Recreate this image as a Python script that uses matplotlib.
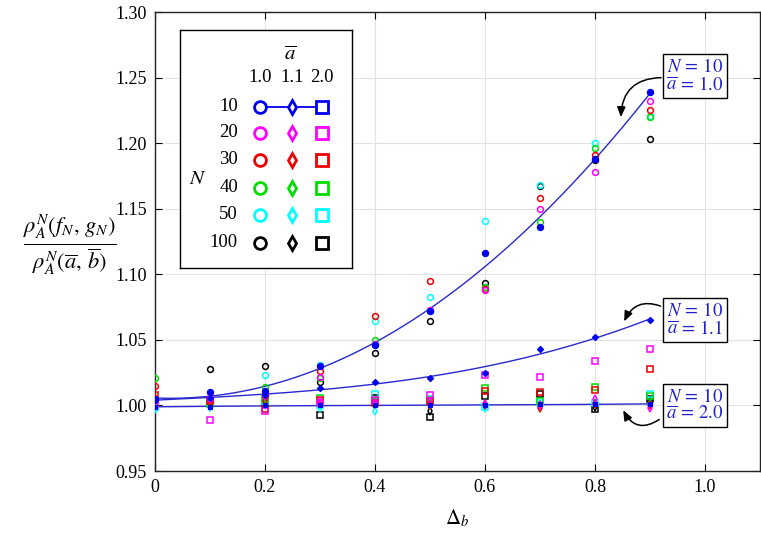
import numpy as np
import matplotlib
matplotlib.use("Agg")
import matplotlib.pyplot as plt

plt.rcParams['font.family'] = 'serif'
plt.rcParams['font.serif'] = ['Liberation Serif', 'DejaVu Serif']
plt.rcParams['mathtext.fontset'] = 'stix'

# data
delta_b = [0.0, 0.1, 0.2, 0.3, 0.4, 0.5, 0.6, 0.7, 0.8, 0.9]
n_values = [10, 20, 30, 40, 50, 100]
a_values = ['1.0', '1.1', '2.0']

ratio_a10 = {
    10: [1.005, 1.010, 1.011, 1.030, 1.046, 1.072, 1.116, 1.136, 1.188, 1.239],
    20: [1.004, 1.006, 1.009, 1.022, 1.047, 1.073, 1.088, 1.150, 1.178, 1.232],
    30: [1.015, 1.004, 1.007, 1.026, 1.068, 1.095, 1.089, 1.158, 1.191, 1.225],
    40: [1.021, 1.001, 1.014, 1.021, 1.050, 1.072, 1.090, 1.140, 1.196, 1.220],
    50: [0.998, 1.002, 1.023, 1.031, 1.064, 1.083, 1.141, 1.168, 1.200, 1.221],
    100: [1.002, 1.028, 1.030, 1.018, 1.040, 1.064, 1.093, 1.167, 1.187, 1.203],
}
ratio_a11 = {
    10: [1.004, 1.006, 1.008, 1.013, 1.018, 1.021, 1.025, 1.043, 1.052, 1.065],
    20: [1.003, 1.005, 1.007, 1.003, 1.002, 1.003, 1.001, 1.000, 1.005, 0.998],
    30: [1.006, 1.004, 1.003, 1.002, 1.001, 1.000, 1.000, 0.998, 1.001, 1.000],
    40: [1.002, 1.000, 1.002, 1.001, 1.003, 1.002, 1.001, 1.000, 1.002, 1.001],
    50: [0.997, 0.999, 1.000, 0.998, 0.996, 1.000, 0.998, 0.999, 1.001, 1.001],
    100: [1.000, 0.999, 1.001, 1.001, 1.001, 0.996, 1.001, 1.000, 0.999, 1.003],
}
ratio_a20 = {
    10: [0.999, 0.999, 1.000, 1.000, 1.000, 1.000, 1.000, 1.001, 1.001, 1.001],
    20: [1.001, 0.989, 0.996, 1.002, 1.004, 1.008, 1.023, 1.022, 1.034, 1.043],
    30: [1.008, 1.003, 0.997, 1.004, 1.002, 1.003, 1.011, 1.010, 1.012, 1.028],
    40: [1.004, 1.001, 1.005, 1.006, 1.003, 1.004, 1.013, 1.003, 1.014, 1.007],
    50: [0.999, 1.002, 1.003, 1.000, 1.009, 1.005, 0.999, 1.002, 1.002, 1.009],
    100: [1.003, 1.002, 1.001, 0.993, 1.006, 0.991, 1.007, 1.009, 0.997, 1.005],
}

colors = {10: '#0000ee', 20: '#ff00ff', 30: '#ee0000', 40: '#00dd00', 50: '#00ffff', 100: 'black'}
markers = ['o', 'd', 's']
series = [ratio_a10, ratio_a11, ratio_a20]

fig = plt.figure(figsize=(7.61, 5.37), dpi=100)
ax = fig.add_axes([155 / 761, 66 / 537, 605 / 761, 459 / 537])

x = np.array(delta_b)
for n in n_values[::-1]:
    for data, mk in zip(series, markers):
        y = np.array(data[n])
        if n == 10:
            ax.plot(x, y, ls='none', marker='D' if mk == 'd' else mk,
                    ms=4.5 if mk == 'o' else 3.2,
                    mfc=colors[n], mec=colors[n], mew=0.8, zorder=4)
        else:
            ax.plot(x, y, ls='none', marker=mk, ms=4.2 if mk == 'o' else 3.8,
                    mfc='none', mec=colors[n], mew=1.1, zorder=3)

# fitted curves through the N = 10 points
xs = np.linspace(0, 0.9, 200)
for data in series:
    coef = np.polyfit(x, data[10], 3)
    ax.plot(xs, np.polyval(coef, xs), color='#2828d0', lw=1.0, zorder=2)

ax.set_xlim(0, 1.1)
ax.set_ylim(0.95, 1.30)
ax.set_xticks([0, 0.2, 0.4, 0.6, 0.8, 1.0])
ax.set_xticklabels(['0', '0.2', '0.4', '0.6', '0.8', '1.0'])
ax.set_yticks(np.arange(0.95, 1.3001, 0.05))
ax.set_yticklabels(['%.2f' % v for v in np.arange(0.95, 1.3001, 0.05)])
ax.tick_params(direction='in', top=True, right=True, length=5, labelsize=13, pad=6)
ax.grid(True, color='#e2e2e2', lw=0.8)
ax.set_axisbelow(True)
for s in ax.spines.values():
    s.set_color('#222222')
    s.set_linewidth(1.0)

ax.set_xlabel(r'$\Delta_b$', fontsize=15, labelpad=8)
fig.text(70 / 761, 1 - 245 / 537,
         r'$\frac{\rho_A^N(f_N,\, g_N)}{\rho_A^N(\overline{a},\, \overline{b})}$',
         fontsize=23, ha='center', va='center')

# annotation boxes
box = dict(boxstyle='square,pad=0.2', fc='white', ec='black', lw=1.0)
arrow_kw = dict(arrowstyle='-|>,head_length=0.6,head_width=0.25', color='black', lw=1.1)
labels = [r'$N\,=\,10$' + '\n' + r'$\overline{a}\,=\,1.0$',
          r'$N\,=\,10$' + '\n' + r'$\overline{a}\,=\,1.1$',
          r'$N\,=\,10$' + '\n' + r'$\overline{a}\,=\,2.0$']
box_pos = [(0.982, 1.2512), (0.982, 1.0652), (0.982, 1.0000)]
arrow_from = [(0.925, 1.2500), (0.924, 1.0750), (0.921, 0.9905)]
arrow_to = [(0.847, 1.2177), (0.851, 1.0621), (0.849, 0.9982)]
arrow_rad = [0.5, 0.5, -0.6]
for lab, bp, af, at, rad in zip(labels, box_pos, arrow_from, arrow_to, arrow_rad):
    ax.text(bp[0], bp[1], lab, color='#2020cc', fontsize=13.5, ha='center', va='center',
            bbox=box, linespacing=1.0, zorder=6)
    ax.annotate('', xy=at, xytext=af,
                arrowprops=dict(connectionstyle='arc3,rad=%s' % rad, **arrow_kw), zorder=5)

# legend table
lg = fig.add_axes([180 / 761, 1 - 268 / 537, 172 / 761, 238 / 537])
lg.set_xlim(0, 172)
lg.set_ylim(238, 0)
lg.set_xticks([])
lg.set_yticks([])
for s in lg.spines.values():
    s.set_color('black')
    s.set_linewidth(1.0)
col_x = [80, 112, 142]
row_y = [77, 103, 130, 158, 185, 213]
lg.text(110, 25, r'$\overline{a}$', fontsize=15, ha='center', va='center')
for cx, a in zip(col_x, a_values):
    lg.text(cx, 48, a, fontsize=13.5, ha='center', va='center')
lg.text(18, 150, r'$N$', fontsize=15, ha='center', va='center')
lg.plot(col_x, [row_y[0]] * 3, color=colors[10], lw=1.3, zorder=1)
for ry, n in zip(row_y, n_values):
    lg.text(58, ry, str(n), fontsize=13.5, ha='right', va='center')
    for cx, mk in zip(col_x, markers):
        lg.plot(cx, ry, marker=mk, ms=8.5 if mk != 'd' else 7, mfc='white', mec=colors[n],
                mew=2.0, zorder=2)

fig.savefig('out.png', dpi=100)
